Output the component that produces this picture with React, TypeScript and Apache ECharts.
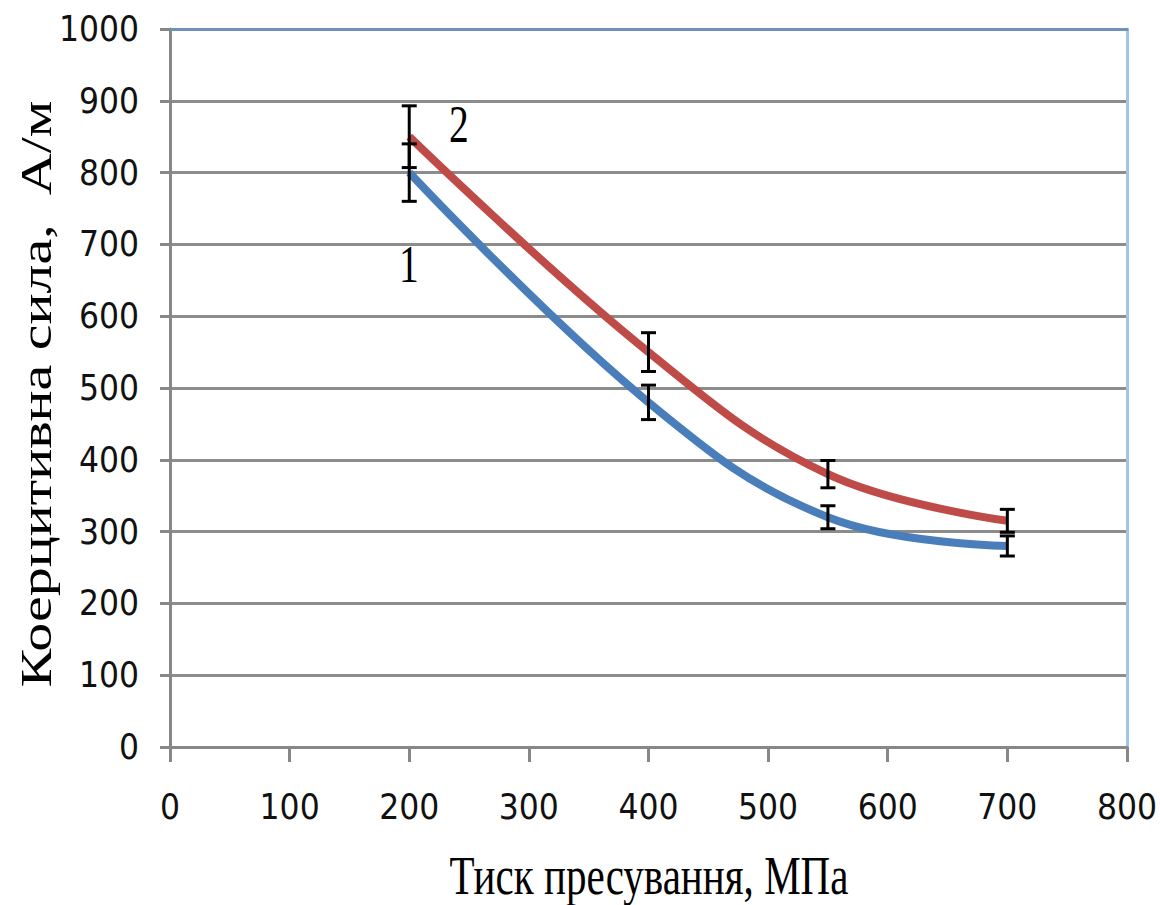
import React, { useEffect, useRef } from "react";
import * as echarts from "echarts";

const pressure = [200, 400, 550, 700];
const coercive1 = [800, 480, 320, 280];
const coercive2 = [850, 550, 380, 315];
const err1 = [40, 24, 16, 14];
const err2 = [43, 27, 19, 16];
const xTicks = ["0", "100", "200", "300", "400", "500", "600", "700", "800"];
const yTicks = ["0", "100", "200", "300", "400", "500", "600", "700", "800", "900", "1000"];
const xTitle = "Тиск пресування, МПа";
const yTitle = "Коерцитивна сила,  А/м";
const curveLabels = ["1", "2"];

const tickFont = "'Liberation Sans Narrow', 'DejaVu Sans Condensed', 'Arial Narrow', sans-serif";
const serif = "'Liberation Serif', 'Times New Roman', 'DejaVu Serif', serif";

export default function App() {
  const ref = useRef<HTMLDivElement>(null);
  useEffect(() => {
    if (!ref.current) return;
    const chart = echarts.init(ref.current, undefined, { renderer: "svg" });
    const errData1 = pressure.map((p, i) => [p, coercive1[i] - err1[i], coercive1[i] + err1[i]]);
    const errData2 = pressure.map((p, i) => [p, coercive2[i] - err2[i], coercive2[i] + err2[i]]);
    const renderErr = (params: any, api: any) => {
      const x = api.value(0);
      const lo = api.coord([x, api.value(1)]);
      const hi = api.coord([x, api.value(2)]);
      const hw = 7.5;
      const st = { stroke: "#000", lineWidth: 3 };
      return {
        type: "group",
        children: [
          { type: "line", shape: { x1: lo[0], y1: lo[1], x2: hi[0], y2: hi[1] }, style: st },
          { type: "line", shape: { x1: lo[0] - hw, y1: lo[1], x2: lo[0] + hw, y2: lo[1] }, style: st },
          { type: "line", shape: { x1: hi[0] - hw, y1: hi[1], x2: hi[0] + hw, y2: hi[1] }, style: st },
        ],
      };
    };
    const gray = "#878787";
    const option: any = {
      animation: false,
      backgroundColor: "#ffffff",
      grid: { left: 170, right: 32, top: 29, bottom: 158 },
      xAxis: [
        {
          type: "value",
          min: 0,
          max: 800,
          interval: 100,
          axisLine: { show: true, onZero: false, lineStyle: { color: gray, width: 3 } },
          axisTick: { show: true, length: 15, lineStyle: { color: gray, width: 3 } },
          axisLabel: {
            margin: 42,
            fontSize: 35,
            fontFamily: tickFont,
            color: "#111",
            formatter: (v: number) => xTicks[Math.round(v / 100)] ?? "",
          },
          splitLine: { show: false },
        },
        {
          type: "value",
          position: "top",
          min: 0,
          max: 800,
          interval: 100,
          axisLine: { show: true, onZero: false, lineStyle: { color: "#6e90ba", width: 3 } },
          axisTick: { show: false },
          axisLabel: { show: false },
          splitLine: { show: false },
        },
      ],
      yAxis: [
        {
          type: "value",
          min: 0,
          max: 1000,
          interval: 100,
          axisLine: { show: true, onZero: false, lineStyle: { color: gray, width: 3 } },
          axisTick: { show: true, length: 10, lineStyle: { color: gray, width: 3 } },
          axisLabel: {
            margin: 31,
            fontSize: 35,
            fontFamily: tickFont,
            color: "#111",
            formatter: (v: number) => yTicks[Math.round(v / 100)] ?? "",
          },
          splitLine: { show: true, lineStyle: { color: "#8c8c8c", width: 3 } },
        },
        {
          type: "value",
          position: "right",
          min: 0,
          max: 1000,
          interval: 100,
          axisLine: { show: true, onZero: false, lineStyle: { color: "#9fc5ea", width: 3 } },
          axisTick: { show: false },
          axisLabel: { show: false },
          splitLine: { show: false },
        },
      ],
      series: [
        {
          type: "line",
          name: "1",
          data: pressure.map((p, i) => [p, coercive1[i]]),
          smooth: 0.4,
          showSymbol: false,
          lineStyle: { color: "#4a7ebb", width: 8 },
          itemStyle: { color: "#4a7ebb" },
          z: 3,
        },
        {
          type: "line",
          name: "2",
          data: pressure.map((p, i) => [p, coercive2[i]]),
          smooth: 0.4,
          showSymbol: false,
          lineStyle: { color: "#be4b48", width: 8 },
          itemStyle: { color: "#be4b48" },
          z: 3,
        },
        { type: "custom", renderItem: renderErr, data: errData1, z: 5 },
        { type: "custom", renderItem: renderErr, data: errData2, z: 5 },
      ],
      graphic: [
        {
          type: "text",
          x: 649,
          y: 875,
          scaleX: 0.76,
          style: { text: xTitle, font: `54px ${serif}`, fill: "#000", align: "center", verticalAlign: "middle" },
        },
        {
          type: "text",
          x: 36,
          y: 394,
          rotation: Math.PI / 2,
          scaleY: 0.76,
          style: { text: yTitle, font: `58px ${serif}`, fill: "#000", align: "center", verticalAlign: "middle" },
        },
        {
          type: "text",
          x: 409,
          y: 265,
          scaleX: 0.76,
          style: { text: curveLabels[0], font: `52px ${serif}`, fill: "#000", align: "center", verticalAlign: "middle" },
        },
        {
          type: "text",
          x: 459,
          y: 125,
          scaleX: 0.76,
          style: { text: curveLabels[1], font: `52px ${serif}`, fill: "#000", align: "center", verticalAlign: "middle" },
        },
      ],
    };
    chart.setOption(option);
    return () => chart.dispose();
  }, []);
  return (
    <div
      ref={ref}
      style={{ position: "absolute", left: 0, top: 0, width: 1160, height: 905 }}
    />
  );
}
